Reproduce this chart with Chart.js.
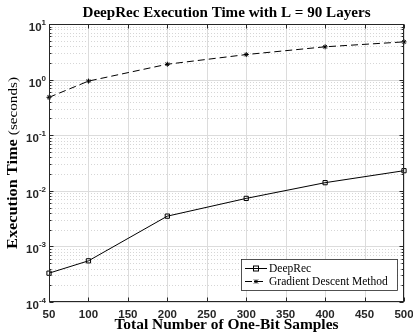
<!DOCTYPE html>
<html>
<head>
<meta charset="utf-8">
<script src="https://cdn.jsdelivr.net/npm/chart.js@4/dist/chart.umd.min.js"></script>
<style>
html, body { margin: 0; padding: 0; background: #fff; }
canvas { display: block; }
</style>
</head>
<body>
<canvas id="chart" width="413" height="333"></canvas>
<script>
// data
var samples = [50, 100, 200, 300, 400, 500];
var deepRecTime = [3.3e-4, 5.5e-4, 3.5e-3, 7.3e-3, 1.4e-2, 2.3e-2];
var gradientTime = [0.48, 0.94, 1.89, 2.82, 3.89, 4.77];

var xTicks = [50, 100, 150, 200, 250, 300, 350, 400, 450, 500];
var yExponents = [-4, -3, -2, -1, 0, 1];

var titleText = 'DeepRec Execution Time with L = 90 Layers';
var xTitle = 'Total Number of One-Bit Samples';
var yTitleBold = 'Execution Time ';
var yTitleNormal = '(seconds)';
var seriesNames = ['DeepRec', 'Gradient Descent Method'];

function toPoints(xs, ys) {
    return xs.map(function(x, i) { return {x: x, y: ys[i]}; });
}

var gridColor = '#dcdcdc';
var axisColor = '#262626';
var serif = '"Liberation Serif", "Times New Roman", serif';

function drawStar(ctx, x, y, r) {
    ctx.beginPath();
    ctx.moveTo(x - r, y - r); ctx.lineTo(x + r, y + r);
    ctx.moveTo(x - r, y + r); ctx.lineTo(x + r, y - r);
    ctx.moveTo(x - r, y); ctx.lineTo(x + r, y);
    ctx.moveTo(x, y - r); ctx.lineTo(x, y + r);
    ctx.stroke();
}

// text stretched horizontally to a given width (the original uses a wider font)
function fitText(ctx, text, cx, y, width) {
    var w = ctx.measureText(text).width;
    ctx.save();
    ctx.translate(cx, y);
    ctx.scale(width / w, 1);
    ctx.textAlign = 'center';
    ctx.fillText(text, 0, 0);
    ctx.restore();
}

// grid behind the data
var gridPlugin = {
    id: 'matlabGrid',
    beforeDatasetsDraw: function(chart) {
        var ctx = chart.ctx, a = chart.chartArea;
        var xs = chart.scales.x, ys = chart.scales.y;
        ctx.save();
        ctx.lineWidth = 1;
        // minor dotted lines
        ctx.strokeStyle = '#d6d6d6';
        ctx.setLineDash([1, 2]);
        yExponents.slice(0, -1).forEach(function(e) {
            for (var m = 2; m <= 9; m++) {
                var py = Math.round(ys.getPixelForValue(m * Math.pow(10, e))) + 0.5;
                ctx.beginPath(); ctx.moveTo(a.left, py); ctx.lineTo(a.right, py); ctx.stroke();
            }
        });
        ctx.setLineDash([]);
        ctx.strokeStyle = gridColor;
        yExponents.forEach(function(e) {
            var py = Math.round(ys.getPixelForValue(Math.pow(10, e))) + 0.5;
            ctx.beginPath(); ctx.moveTo(a.left, py); ctx.lineTo(a.right, py); ctx.stroke();
        });
        xTicks.forEach(function(t) {
            var px = Math.round(xs.getPixelForValue(t)) + 0.5;
            ctx.beginPath(); ctx.moveTo(px, a.top); ctx.lineTo(px, a.bottom); ctx.stroke();
        });
        ctx.restore();
    }
};

// box, ticks, labels, titles and legend on top
var axesPlugin = {
    id: 'matlabAxes',
    afterDatasetsDraw: function(chart) {
        var ctx = chart.ctx, a = chart.chartArea;
        var xs = chart.scales.x, ys = chart.scales.y;
        ctx.save();
        ctx.strokeStyle = axisColor;
        ctx.lineWidth = 1;
        var L = Math.round(a.left) + 0.5, R = Math.round(a.right) - 0.5;
        var T = Math.round(a.top) + 0.5, B = Math.round(a.bottom) - 0.5;
        ctx.strokeRect(L, T, R - L, B - T);

        // x ticks, top and bottom
        ctx.beginPath();
        xTicks.forEach(function(t) {
            var px = Math.round(xs.getPixelForValue(t)) + 0.5;
            ctx.moveTo(px, B); ctx.lineTo(px, B - 4);
            ctx.moveTo(px, T); ctx.lineTo(px, T + 4);
        });
        // y ticks, major and minor, left and right
        yExponents.forEach(function(e, i) {
            var py = Math.round(ys.getPixelForValue(Math.pow(10, e))) + 0.5;
            ctx.moveTo(L, py); ctx.lineTo(L + 4, py);
            ctx.moveTo(R, py); ctx.lineTo(R - 4, py);
            if (i < yExponents.length - 1) {
                for (var m = 2; m <= 9; m++) {
                    var q = Math.round(ys.getPixelForValue(m * Math.pow(10, e))) + 0.5;
                    ctx.moveTo(L, q); ctx.lineTo(L + 2, q);
                    ctx.moveTo(R, q); ctx.lineTo(R - 2, q);
                }
            }
        });
        ctx.stroke();

        // x tick labels
        ctx.fillStyle = axisColor;
        ctx.font = 'bold 11.5px "Liberation Sans", Arial, sans-serif';
        ctx.textAlign = 'center';
        ctx.textBaseline = 'alphabetic';
        xTicks.forEach(function(t) {
            ctx.fillText(String(t), xs.getPixelForValue(t), a.bottom + 16);
        });

        // y tick labels 10^e
        yExponents.forEach(function(e) {
            var py = ys.getPixelForValue(Math.pow(10, e));
            var exp = String(e);
            ctx.font = 'bold 8px "Liberation Sans", Arial, sans-serif';
            var ew = ctx.measureText(exp).width;
            ctx.textAlign = 'left';
            var right = a.left - 3;
            ctx.fillText(exp, right - ew, py + 1);
            ctx.font = 'bold 11.5px "Liberation Sans", Arial, sans-serif';
            ctx.textAlign = 'right';
            ctx.fillText('10', right - ew, py + 7);
        });

        // title
        var cx = (a.left + a.right) / 2;
        ctx.fillStyle = '#000';
        ctx.font = 'bold 14px ' + serif;
        fitText(ctx, titleText, cx, 17, 288);

        // x axis title
        ctx.font = 'bold 14px ' + serif;
        fitText(ctx, xTitle, cx, 329, 224);

        // y axis title, bold part plus normal part
        ctx.save();
        ctx.translate(17, (a.top + a.bottom) / 2);
        ctx.rotate(-Math.PI / 2);
        var fb = 'bold 14.5px ' + serif;
        var fn = '13.5px ' + serif;
        ctx.font = fb; var w1 = ctx.measureText(yTitleBold).width;
        ctx.font = fn; var w2 = ctx.measureText(yTitleNormal).width;
        var k = 172 / (w1 + w2);
        ctx.scale(k, 1);
        var sx = -(w1 + w2) / 2;
        ctx.textAlign = 'left';
        ctx.font = fb; ctx.fillText(yTitleBold, sx, 0);
        ctx.font = fn; ctx.fillText(yTitleNormal, sx + w1, 0);
        ctx.restore();

        // legend inside the axes, lower right
        var lx = 241, ly = 259, lw = 156, lh = 31;
        ctx.fillStyle = '#fff';
        ctx.fillRect(lx, ly, lw, lh);
        ctx.strokeStyle = axisColor;
        ctx.lineWidth = 0.8;
        ctx.strokeRect(lx + 0.5, ly + 0.5, lw, lh);
        chart.data.datasets.forEach(function(ds, i) {
            var ry = ly + 9 + i * 13 + 0.5;
            ctx.strokeStyle = ds.borderColor;
            ctx.lineWidth = 1;
            ctx.setLineDash(ds.borderDash || []);
            ctx.beginPath(); ctx.moveTo(lx + 4, ry); ctx.lineTo(lx + 26, ry); ctx.stroke();
            ctx.setLineDash([]);
            var mx = lx + 15;
            if (ds.pointStyle === 'rect') {
                ctx.strokeRect(mx - 2.5, ry - 2.5, 5, 5);
            } else {
                drawStar(ctx, mx, ry, 2);
            }
            ctx.fillStyle = '#000';
            ctx.font = '11.5px ' + serif;
            ctx.textAlign = 'left';
            ctx.textBaseline = 'middle';
            ctx.fillText(ds.label, lx + 28, ry + 0.5);
            ctx.textBaseline = 'alphabetic';
        });
        ctx.restore();
    }
};

var ctx = document.getElementById('chart').getContext('2d');
new Chart(ctx, {
    type: 'line',
    data: {
        datasets: [{
            label: seriesNames[0],
            data: toPoints(samples, deepRecTime),
            borderColor: '#000',
            backgroundColor: 'rgba(0,0,0,0)',
            borderWidth: 1,
            pointStyle: 'rect',
            pointRadius: 3,
            pointBorderWidth: 1,
            pointBackgroundColor: 'rgba(0,0,0,0)',
            pointBorderColor: '#000',
            clip: false
        }, {
            label: seriesNames[1],
            data: toPoints(samples, gradientTime),
            borderColor: '#000',
            backgroundColor: 'rgba(0,0,0,0)',
            borderWidth: 1,
            borderDash: [7, 4],
            pointStyle: 'star',
            pointRadius: 2.5,
            pointBorderWidth: 1,
            pointBorderColor: '#000',
            clip: false
        }]
    },
    options: {
        responsive: false,
        animation: false,
        events: [],
        layout: { padding: { left: 49, right: 9, top: 24, bottom: 31 } },
        plugins: {
            legend: { display: false },
            tooltip: { enabled: false }
        },
        scales: {
            x: { type: 'linear', min: 50, max: 500, display: false },
            y: { type: 'logarithmic', min: 1e-4, max: 10, display: false }
        }
    },
    plugins: [gridPlugin, axesPlugin]
});
</script>
</body>
</html>
